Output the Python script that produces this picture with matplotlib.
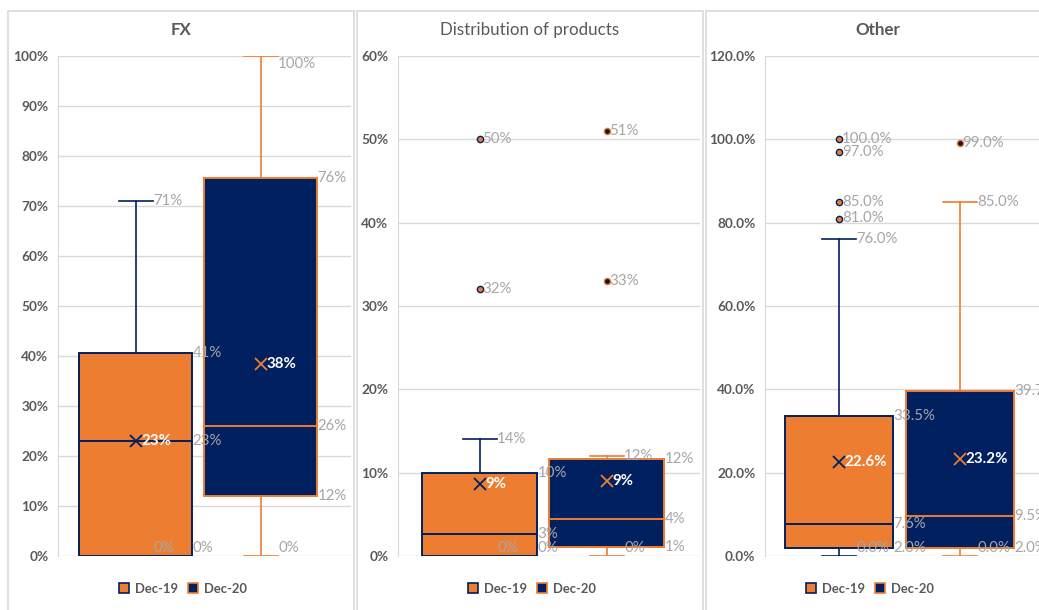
import matplotlib
matplotlib.use("Agg")
import matplotlib.pyplot as plt
from matplotlib.patches import Rectangle
from matplotlib.ticker import FuncFormatter

plt.rcParams["font.family"] = ["Lato", "DejaVu Sans"]

# ---------------- data ----------------
series = ["Dec-19", "Dec-20"]

fx_min = [0, 0]
fx_q1 = [0, 12]
fx_median = [23, 26]
fx_q3 = [40.6, 75.6]
fx_max = [71, 100]
fx_mean = [23, 38.4]
fx_outliers = [[], []]

dist_min = [0, 0]
dist_q1 = [0, 1.1]
dist_median = [2.6, 4.4]
dist_q3 = [10, 11.6]
dist_max = [14, 12]
dist_mean = [8.6, 9.0]
dist_outliers = [[32, 50], [33, 51]]

other_min = [0.0, 0.0]
other_q1 = [2.0, 2.0]
other_median = [7.6, 9.5]
other_q3 = [33.5, 39.7]
other_max = [76.0, 85.0]
other_mean = [22.6, 23.2]
other_outliers = [[81.0, 85.0, 97.0, 100.0], [99.0]]

panel_titles = ["FX", "Distribution of products", "Other"]
y_limits = [100, 60, 120]
y_steps = [10, 10, 20]
decimals = [0, 0, 1]

# ---------------- style ----------------
W, H = 1039, 610
ORANGE = "#ED7D31"
NAVY = "#002060"
GRID = "#D9D9D9"
TICK = "#595959"
LABEL = "#A6A6A6"
LABEL_SIZE = 10.8

fill_colors = [ORANGE, NAVY]
edge_colors = [NAVY, ORANGE]
outlier_faces = [ORANGE, "#1a1030"]

fig = plt.figure(figsize=(W / 100, H / 100), dpi=100)
fig.patch.set_facecolor("white")


def fx_(x):
    return x / W


def fy_(y):
    return 1 - y / H


# panel frames: (left, right) in pixels
frames = [(8, 354), (357, 703), (706, 1060)]
for x0, x1 in frames:
    fig.add_artist(Rectangle((fx_(x0), fy_(640)), fx_(x1) - fx_(x0), fy_(11) - fy_(640),
                             transform=fig.transFigure, fill=False, ec=GRID, lw=1.2, zorder=0))

# plot areas and box centres, in pixels
layouts = [
    dict(L=58, R=351, c=(135.5, 260.5), bw=113, title_x=181, legend_x=183, title_w="bold"),
    dict(L=398, R=700, c=(479.5, 606.5), bw=115, title_x=530, legend_x=532, title_w="normal"),
    dict(L=765, R=1039, c=(839, 959.5), bw=108, title_x=878, legend_x=870, title_w="bold"),
]
TOP, BOTTOM = 56, 556

stats = [
    (fx_min, fx_q1, fx_median, fx_q3, fx_max, fx_mean, fx_outliers),
    (dist_min, dist_q1, dist_median, dist_q3, dist_max, dist_mean, dist_outliers),
    (other_min, other_q1, other_median, other_q3, other_max, other_mean, other_outliers),
]

for k, lay in enumerate(layouts):
    ax = fig.add_axes([fx_(lay["L"]), fy_(BOTTOM), fx_(lay["R"]) - fx_(lay["L"]),
                       fy_(TOP) - fy_(BOTTOM)])
    sep = lay["c"][1] - lay["c"][0]
    ax.set_xlim((lay["L"] - lay["c"][0]) / sep, (lay["R"] - lay["c"][0]) / sep)
    ymax = y_limits[k]
    ax.set_ylim(0, ymax)
    ax.set_yticks(range(0, ymax + 1, y_steps[k]))
    d = decimals[k]
    ax.yaxis.set_major_formatter(FuncFormatter(lambda v, p, d=d: f"{v:.{d}f}%"))
    ax.tick_params(axis="y", length=0, pad=7, labelsize=9.8, labelcolor=TICK)
    for t in ax.get_yticklabels():
        t.set_fontweight("bold")
    ax.set_xticks([])
    ax.grid(axis="y", color=GRID, lw=1.0, zorder=0)
    ax.set_axisbelow(True)
    for s in ["top", "right", "bottom"]:
        ax.spines[s].set_visible(False)
    ax.spines["left"].set_color(GRID)
    ax.patch.set_alpha(0)

    px_per_unit_y = (BOTTOM - TOP) / ymax
    bw = lay["bw"] / sep
    cap = 34 / sep
    fmt = lambda v, d=d: f"{v:.{d}f}%"

    def label_y(v):
        lo = 7.5 / px_per_unit_y
        hi = ymax - 8 / px_per_unit_y
        return min(max(v, lo), hi)

    mn, q1, med, q3, mx, mean, outs = stats[k]
    for i in range(2):
        fc, ec = fill_colors[i], edge_colors[i]
        # whiskers and caps
        ax.plot([i, i], [q3[i], mx[i]], color=ec, lw=1.2, zorder=2)
        ax.plot([i, i], [mn[i], q1[i]], color=ec, lw=1.2, zorder=2)
        ax.plot([i - cap / 2, i + cap / 2], [mx[i], mx[i]], color=ec, lw=1.2, zorder=2)
        ax.plot([i - cap / 2, i + cap / 2], [mn[i], mn[i]], color=ec, lw=1.2, zorder=2)
        # box
        ax.add_patch(Rectangle((i - bw / 2, q1[i]), bw, q3[i] - q1[i], facecolor=fc,
                               edgecolor=ec, lw=1.4, zorder=3))
        ax.plot([i - bw / 2, i + bw / 2], [med[i], med[i]], color=ec, lw=1.4, zorder=4)
        # mean marker
        ax.plot([i], [mean[i]], marker="x", ms=8.5, mew=1.3, color=ec, zorder=5, ls="none")
        # outliers
        for o in outs[i]:
            ax.plot([i], [o], marker="o", ms=4.5, mfc=outlier_faces[i], mec=ec, mew=1.0,
                    zorder=5, ls="none")
            ax.annotate(fmt(o), (i, label_y(o)), xytext=(2, 0), textcoords="offset points",
                        ha="left", va="center", fontsize=LABEL_SIZE, color=LABEL, zorder=6,
                        annotation_clip=False)
        # data labels
        kw = dict(textcoords="offset points", ha="left", va="center", fontsize=LABEL_SIZE,
                  color=LABEL, zorder=6, annotation_clip=False)
        ax.annotate(fmt(mx[i]), (i + cap / 2, label_y(mx[i])), xytext=(0.5, 0), **kw)
        ax.annotate(fmt(mn[i]), (i + cap / 2, label_y(mn[i])), xytext=(0.5, 0), **kw)
        ax.annotate(fmt(q3[i]), (i + bw / 2, label_y(q3[i])), xytext=(0.5, 0), **kw)
        ax.annotate(fmt(med[i]), (i + bw / 2, label_y(med[i])), xytext=(0.5, 0), **kw)
        ax.annotate(fmt(q1[i]), (i + bw / 2, label_y(q1[i])), xytext=(0.5, 0), **kw)
        ax.annotate(fmt(mean[i]), (i, mean[i]), xytext=(4, 0), textcoords="offset points",
                    ha="left", va="center", fontsize=LABEL_SIZE, color="white",
                    fontweight="bold", zorder=6)

    fig.text(fx_(lay["title_x"]), fy_(30), panel_titles[k], ha="center", va="center",
             fontsize=12.2, color=TICK, fontweight=lay["title_w"])

    handles = [Rectangle((0, 0), 1, 1, facecolor=fill_colors[j], edgecolor=edge_colors[j],
                         lw=1.2) for j in range(2)]
    fig.legend(handles, series, loc="center",
               bbox_to_anchor=(fx_(lay["legend_x"]), fy_(589)),
               ncol=2, frameon=False, handlelength=0.8, handleheight=0.8,
               handletextpad=0.45, columnspacing=0.75, borderpad=0,
               prop=dict(size=9.4, weight="bold"), labelcolor=TICK)

fig.savefig("out.png", dpi=100, facecolor="white")
